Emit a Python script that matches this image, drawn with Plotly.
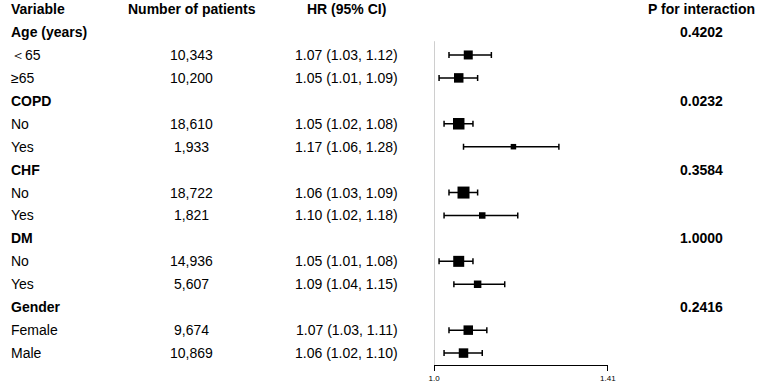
import plotly.graph_objects as go

# ---- data ----
row_labels = ["Age (years)", "＜65", "≥65", "COPD", "No", "Yes", "CHF", "No", "Yes",
              "DM", "No", "Yes", "Gender", "Female", "Male"]
is_group = [True, False, False, True, False, False, True, False, False,
            True, False, False, True, False, False]
n_patients = ["", "10,343", "10,200", "", "18,610", "1,933", "", "18,722", "1,821",
              "", "14,936", "5,607", "", "9,674", "10,869"]
hr = [None, 1.07, 1.05, None, 1.05, 1.17, None, 1.06, 1.10, None, 1.05, 1.09, None, 1.07, 1.06]
ci_lo = [None, 1.03, 1.01, None, 1.02, 1.06, None, 1.03, 1.02, None, 1.01, 1.04, None, 1.03, 1.02]
ci_hi = [None, 1.12, 1.09, None, 1.08, 1.28, None, 1.09, 1.18, None, 1.08, 1.15, None, 1.11, 1.10]
p_interaction = ["0.4202", "", "", "0.0232", "", "", "0.3584", "", "", "1.0000", "", "", "0.2416", "", ""]
headers = ["Variable", "Number of patients", "HR (95% CI)", "P for interaction"]
tick_vals = [1.0, 1.41]
tick_text = ["1.0", "1.41"]

# ---- styles ----
marker_sizes = [0, 9, 9.5, 0, 11.5, 5.5, 0, 12, 6.5, 0, 11, 7.5, 0, 9.5, 9.5]
FONT = "Liberation Sans, Arial, sans-serif"
W, H = 767, 383
Y_BOTTOM = 15.52

rows = list(range(1, len(row_labels) + 1))
fig = go.Figure()

# reference line at HR = 1
fig.add_trace(go.Scatter(x=[1.0, 1.0], y=[1.4, Y_BOTTOM], mode="lines",
                         line=dict(color="#a0a0a0", width=1), hoverinfo="skip",
                         showlegend=False, cliponaxis=False))

px, py, pp, pm, ps = [], [], [], [], []
for i, r in enumerate(rows):
    if hr[i] is None:
        continue
    px.append(hr[i]); py.append(r)
    pp.append(ci_hi[i] - hr[i]); pm.append(hr[i] - ci_lo[i])
    ps.append(marker_sizes[i])

fig.add_trace(go.Scatter(
    x=px, y=py, mode="markers",
    marker=dict(symbol="square", size=ps, color="black", opacity=1, line=dict(width=0)),
    error_x=dict(type="data", symmetric=False, array=pp, arrayminus=pm,
                 color="black", thickness=1.5, width=3),
    showlegend=False, cliponaxis=False))

ann = []
col_x = [3, 189, 347, 708]
for j, h in enumerate(headers):
    ann.append(dict(x=col_x[j] / W, y=0, xref="paper", yref="y", text="<b>%s</b>" % h,
                    showarrow=False, xanchor="left" if j == 0 else "center",
                    font=dict(size=14, color="black", family=FONT)))
for i, r in enumerate(rows):
    lbl = "<b>%s</b>" % row_labels[i] if is_group[i] else row_labels[i]
    ann.append(dict(x=3 / W, y=r, xref="paper", yref="y", text=lbl, showarrow=False,
                    xanchor="left", font=dict(size=14, color="black", family=FONT)))
    if n_patients[i]:
        ann.append(dict(x=189 / W, y=r, xref="paper", yref="y", text=n_patients[i],
                        showarrow=False, xanchor="center",
                        font=dict(size=14, color="black", family=FONT)))
    if hr[i] is not None:
        txt = "%.2f (%.2f, %.2f)" % (hr[i], ci_lo[i], ci_hi[i])
        ann.append(dict(x=347 / W, y=r, xref="paper", yref="y", text=txt,
                        showarrow=False, xanchor="center",
                        font=dict(size=14, color="black", family=FONT)))
    if p_interaction[i]:
        ann.append(dict(x=708 / W, y=r, xref="paper", yref="y",
                        text="<b>%s</b>" % p_interaction[i], showarrow=False,
                        xanchor="center", font=dict(size=14, color="black", family=FONT)))

fig.update_layout(
    width=W, height=H, margin=dict(l=0, r=0, t=0, b=0),
    plot_bgcolor="white", paper_bgcolor="white",
    annotations=ann,
    xaxis=dict(type="log", domain=[436 / W, 613 / W],
               range=[0, 0.149219], tickvals=tick_vals, ticktext=tick_text,
               showline=True, linecolor="black", linewidth=1.3,
               ticks="outside", ticklen=5, tickwidth=1.3, tickcolor="black",
               showgrid=False, zeroline=False,
               tickfont=dict(size=8, color="black", family=FONT)),
    yaxis=dict(domain=[18 / H, 1], range=[Y_BOTTOM, -0.397], visible=False,
               showgrid=False, zeroline=False),
)

fig.write_html("out.html")
